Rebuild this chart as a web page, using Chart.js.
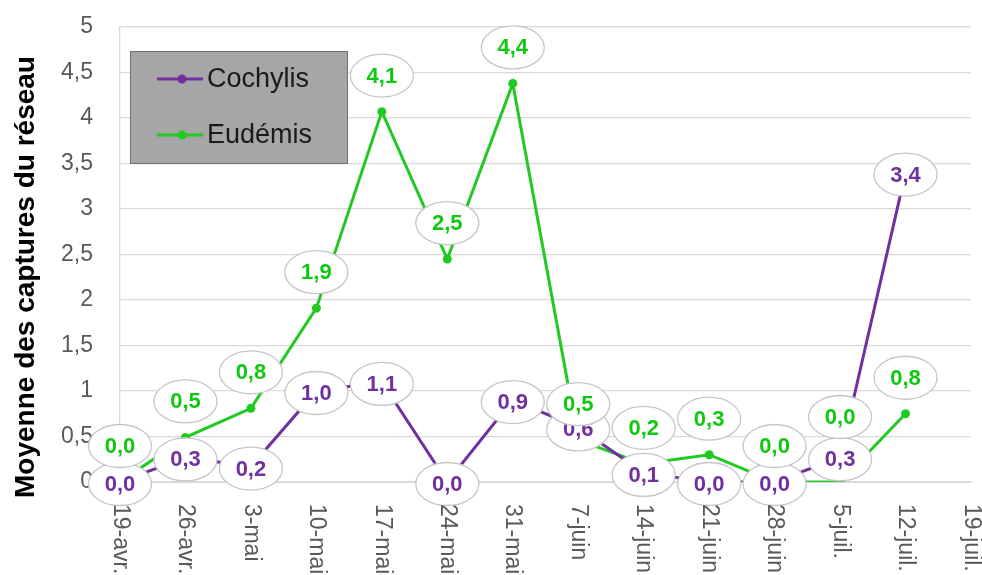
<!DOCTYPE html>
<html>
<head>
<meta charset="utf-8">
<script src="https://cdn.jsdelivr.net/npm/chart.js@4/dist/chart.umd.min.js"></script>
<style>
    html, body { margin: 0; padding: 0; background: #ffffff; }
    #wrap { width: 982px; height: 575px; }
</style>
</head>
<body>
<div id="wrap"><canvas id="chart"></canvas></div>
<script>
// Dates des relevés (19-juil. sans donnée)
const dates = ["19-avr.", "26-avr.", "3-mai", "10-mai", "17-mai", "24-mai", "31-mai",
    "7-juin", "14-juin", "21-juin", "28-juin", "5-juil.", "12-juil.", "19-juil."];

// Moyennes des captures
const cochylis = [0.0, 0.27, 0.17, 1.0, 1.1, 0.0, 0.9, 0.6, 0.1, 0.0, 0.0, 0.27, 3.4];
const eudemis = [0.0, 0.49, 0.81, 1.91, 4.07, 2.45, 4.38, 0.46, 0.2, 0.3, 0.0, 0.0, 0.75];

const yTicks = [0, 0.5, 1, 1.5, 2, 2.5, 3, 3.5, 4, 4.5, 5];
const yTitle = 'Moyenne des captures du réseau';

const PURPLE = '#7030a0';
const GREEN = '#22c922';
const fmt = v => v.toFixed(1).replace('.', ',');

// étiquettes en ellipse blanche
const bubbleLabels = {
    id: 'bubbleLabels',
    afterDatasetsDraw(chart, args, opts) {
        const ctx = chart.ctx;
        chart.data.datasets.forEach((ds, di) => {
            const meta = chart.getDatasetMeta(di);
            const shift = opts.shifts[di];
            meta.data.forEach((pt, i) => {
                const x = pt.x;
                const y = pt.y + shift[i];
                ctx.save();
                ctx.beginPath();
                ctx.ellipse(x, y, 31.5, 21.5, 0, 0, Math.PI * 2);
                ctx.fillStyle = '#ffffff';
                ctx.fill();
                ctx.lineWidth = 1.3;
                ctx.strokeStyle = '#c6c6c6';
                ctx.stroke();
                ctx.fillStyle = ds.labelColor;
                ctx.font = 'bold 22px "Liberation Sans", Arial, sans-serif';
                ctx.textAlign = 'center';
                ctx.textBaseline = 'middle';
                ctx.fillText(fmt(ds.data[i]), x, y + 1);
                ctx.restore();
            });
        });
    }
};

// dates verticales (lues de haut en bas) + titre de l'axe Y
const axisTexts = {
    id: 'axisTexts',
    afterDraw(chart) {
        const ctx = chart.ctx;
        const xs = chart.scales.x;
        const top = chart.chartArea.bottom + 22;
        ctx.save();
        ctx.fillStyle = '#595959';
        ctx.font = '23px "Liberation Sans", Arial, sans-serif';
        ctx.textAlign = 'left';
        ctx.textBaseline = 'middle';
        dates.forEach((d, i) => {
            ctx.save();
            ctx.translate(xs.getPixelForValue(i), top);
            ctx.rotate(Math.PI / 2);
            ctx.fillText(d, 0, 0);
            ctx.restore();
        });
        ctx.translate(26, 277);
        ctx.rotate(-Math.PI / 2);
        ctx.fillStyle = '#000000';
        ctx.font = 'bold 28px "Liberation Sans", Arial, sans-serif';
        ctx.textAlign = 'center';
        ctx.fillText(yTitle, 0, 0);
        ctx.restore();
    }
};

// légende grise dans la zone de tracé
const boxLegend = {
    id: 'boxLegend',
    afterDraw(chart) {
        const ctx = chart.ctx;
        const x0 = 130, y0 = 51, w = 217, h = 112;
        ctx.save();
        ctx.fillStyle = '#a6a6a6';
        ctx.fillRect(x0, y0, w, h);
        ctx.strokeStyle = '#6f6f6f';
        ctx.lineWidth = 1;
        ctx.strokeRect(x0 + 0.5, y0 + 0.5, w, h);
        chart.data.datasets.forEach((ds, i) => {
            const y = y0 + 28 + i * 56;
            ctx.strokeStyle = ds.borderColor;
            ctx.lineWidth = 3;
            ctx.beginPath();
            ctx.moveTo(x0 + 27, y);
            ctx.lineTo(x0 + 73, y);
            ctx.stroke();
            ctx.fillStyle = ds.borderColor;
            ctx.beginPath();
            ctx.arc(x0 + 52, y, 4.5, 0, Math.PI * 2);
            ctx.fill();
            ctx.fillStyle = '#1a1a1a';
            ctx.font = '27px "Liberation Sans", Arial, sans-serif';
            ctx.textBaseline = 'middle';
            ctx.fillText(ds.label, x0 + 77, y + 1);
        });
        ctx.restore();
    }
};

new Chart(document.getElementById('chart'), {
    type: 'line',
    data: {
        labels: dates,
        datasets: [
            {
                label: 'Cochylis',
                data: cochylis,
                borderColor: PURPLE,
                backgroundColor: PURPLE,
                labelColor: '#7030a0',
                borderWidth: 3,
                pointRadius: 4.5,
                pointBorderWidth: 0,
                tension: 0
            },
            {
                label: 'Eudémis',
                data: eudemis,
                borderColor: GREEN,
                backgroundColor: GREEN,
                labelColor: '#11c811',
                borderWidth: 3,
                pointRadius: 4.5,
                pointBorderWidth: 0,
                tension: 0
            }
        ]
    },
    options: {
        responsive: true,
        maintainAspectRatio: false,
        animation: false,
        layout: { padding: { top: 27, right: 11, bottom: 85, left: 0 } },
        plugins: {
            legend: { display: false },
            tooltip: { enabled: false },
            bubbleLabels: {
                shifts: [
                    cochylis.map(() => 2),
                    eudemis.map((v, i) => i === 11 ? -65 : -36)
                ]
            }
        },
        scales: {
            x: {
                type: 'category',
                offset: false,
                grid: { display: false },
                border: { display: true, color: '#d9d9d9', width: 1 },
                ticks: { display: false }
            },
            y: {
                min: 0,
                max: 5,
                afterFit: s => { s.width = 120; s.paddingTop = 0; s.paddingBottom = 0; },
                afterBuildTicks: s => { s.ticks = yTicks.map(v => ({ value: v })); },
                grid: { color: '#d9d9d9', lineWidth: 1.3, drawTicks: false },
                border: { display: true, color: '#d9d9d9', width: 1.3 },
                ticks: {
                    padding: 27,
                    color: '#595959',
                    font: { family: '"Liberation Sans", Arial, sans-serif', size: 23 },
                    callback: v => String(v).replace('.', ',')
                },
                title: { display: false }
            }
        }
    },
    plugins: [bubbleLabels, axisTexts, boxLegend]
});
</script>
</body>
</html>
